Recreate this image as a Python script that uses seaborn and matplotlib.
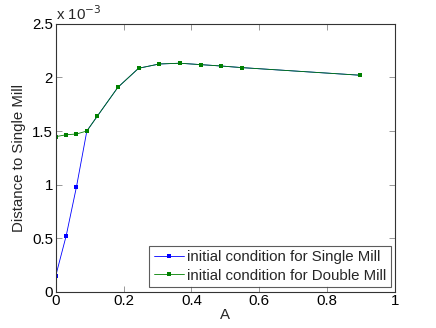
import pandas as pd
import numpy as np
import seaborn as sns
import matplotlib.pyplot as plt
from matplotlib.ticker import FuncFormatter, MultipleLocator

# values, y in units of 1e-3
a_single = [0, 0.0305, 0.061, 0.0915, 0.122, 0.183, 0.244, 0.305, 0.366, 0.427, 0.488, 0.549, 0.897]
d_single = [0.15, 0.52, 0.98, 1.50, 1.637, 1.908, 2.086, 2.126, 2.133, 2.120, 2.107, 2.092, 2.021]
a_double = [0, 0.0305, 0.061, 0.0915, 0.122, 0.183, 0.244, 0.305, 0.366, 0.427, 0.488, 0.549, 0.897]
d_double = [1.447, 1.465, 1.472, 1.50, 1.637, 1.908, 2.086, 2.126, 2.133, 2.120, 2.107, 2.092, 2.021]

labels = ['initial condition for Single Mill', 'initial condition for Double Mill']

df = pd.concat([
    pd.DataFrame({'A': a_single, 'dist': d_single, 'run': labels[0]}),
    pd.DataFrame({'A': a_double, 'dist': d_double, 'run': labels[1]}),
])

sns.set_style('ticks')
plt.rcParams['font.family'] = ['Liberation Sans', 'DejaVu Sans']
fs = 10.8

fig = plt.figure(figsize=(4.36, 3.28), dpi=100)
ax = fig.add_axes([0.128, 0.111, 0.778, 0.816])

sns.lineplot(data=df, x='A', y='dist', hue='run', hue_order=labels,
             palette=['#0000ff', '#008000'], marker='s', markersize=2.2,
             markeredgewidth=0, linewidth=0.6, sort=False, ax=ax)

ax.set_xlim(0, 1)
ax.set_ylim(0, 2.5)
ax.xaxis.set_major_locator(MultipleLocator(0.2))
ax.yaxis.set_major_locator(MultipleLocator(0.5))
ax.xaxis.set_major_formatter(FuncFormatter(lambda v, p: '%g' % round(v, 3)))
ax.yaxis.set_major_formatter(FuncFormatter(lambda v, p: '%g' % round(v, 3)))
ax.tick_params(direction='in', length=4, width=0.6, top=True, right=True,
               labelsize=fs, colors='#888888', labelcolor='black', pad=2)
for s in ax.spines.values():
    s.set_linewidth(0.8)
    s.set_color('#333333')

ax.set_xlabel('A', fontsize=fs, labelpad=0)
ax.set_ylabel('Distance to Single Mill', fontsize=fs, labelpad=4)
ax.text(0, 1.003, 'x 10$^{-3}$', transform=ax.transAxes, fontsize=fs,
        ha='left', va='bottom')

leg = ax.legend(loc='lower right', fontsize=fs, frameon=True, fancybox=False,
                handlelength=2.0, handletextpad=0.2, borderpad=0.3,
                labelspacing=0.3, borderaxespad=0.3)
leg.get_frame().set_edgecolor('#333333')
leg.get_frame().set_linewidth(0.8)

fig.savefig('out.png', dpi=100)
